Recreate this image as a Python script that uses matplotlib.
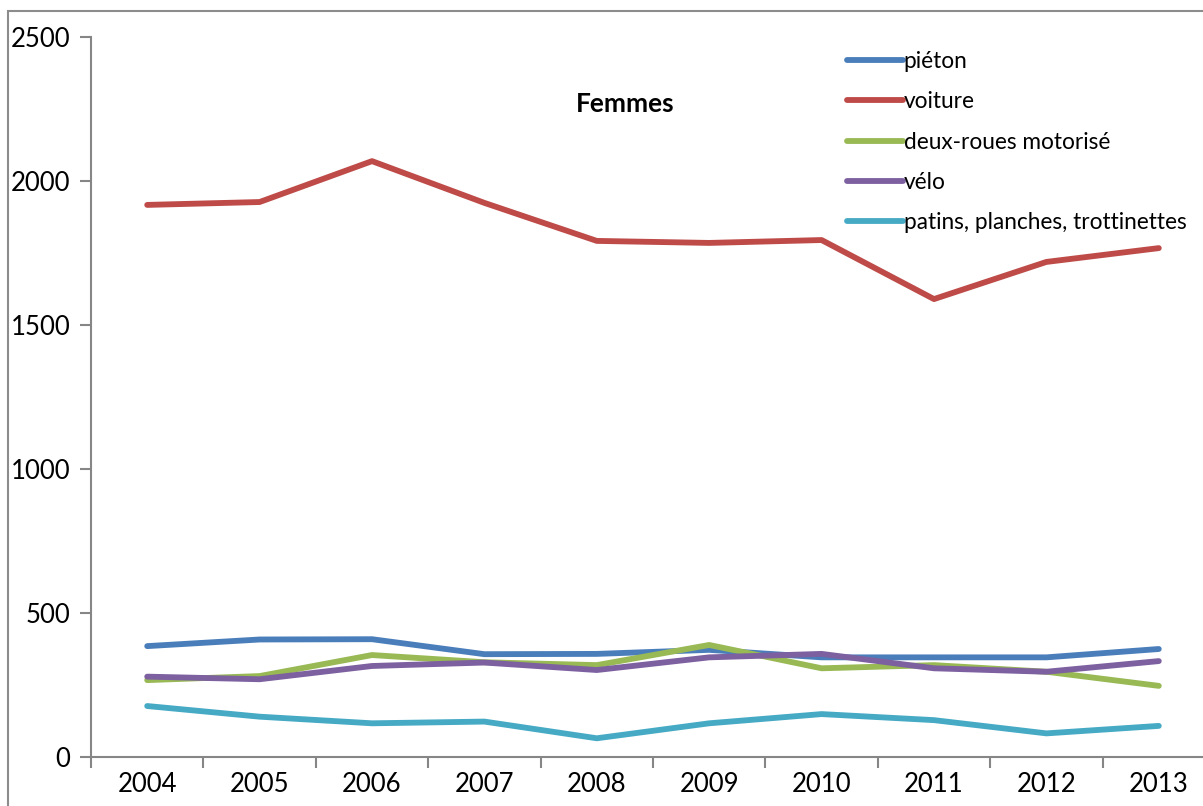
import numpy as np
import matplotlib.pyplot as plt
from matplotlib.patches import Rectangle

# --- données ---
annees = ['2004', '2005', '2006', '2007', '2008', '2009', '2010', '2011', '2012', '2013']
pieton = [385, 408, 409, 357, 358, 372, 346, 346, 346, 375]
voiture = [1917, 1927, 2069, 1924, 1792, 1785, 1795, 1590, 1719, 1767]
deux_roues = [267, 281, 354, 329, 319, 389, 308, 319, 296, 247]
velo = [279, 270, 316, 328, 302, 346, 358, 308, 296, 333]
patins = [177, 140, 117, 123, 65, 117, 149, 128, 82, 108]

series = [
    ('piéton', pieton, '#4A7EBB'),
    ('voiture', voiture, '#BE4B48'),
    ('deux-roues motorisé', deux_roues, '#98B954'),
    ('vélo', velo, '#7D60A0'),
    ('patins, planches, trottinettes', patins, '#46AAC5'),
]

plt.rcParams['font.family'] = ['Lato', 'DejaVu Sans']

W, H = 1203, 806
fig = plt.figure(figsize=(W / 100, H / 100), dpi=100)

# cadre extérieur du graphique (coupé à droite et en bas)
fig.patches.append(Rectangle((8 / W, -0.05), 1.1, 1 - 11 / H + 0.05,
                             transform=fig.transFigure, fill=False,
                             edgecolor='#8C8C8C', lw=1.5))

ax = fig.add_axes([91 / W, (H - 757) / H, 1124 / W, 720 / H])

x = np.arange(len(annees))
for nom, vals, couleur in series:
    ax.plot(x, vals, color=couleur, lw=4.2, label=nom, solid_capstyle='round')

ax.set_xlim(-0.5, len(annees) - 0.5)
ax.set_ylim(0, 2500)
ax.set_yticks([0, 500, 1000, 1500, 2000, 2500])

# graduations entre les catégories, étiquettes au centre
ax.set_xticks(np.arange(-0.5, len(annees), 1.0))
ax.set_xticklabels([])
ax.set_xticks(x, minor=True)
ax.set_xticklabels(annees, minor=True)
ax.tick_params(axis='x', which='major', length=8, width=1.5, color='#868686', direction='out')
ax.tick_params(axis='x', which='minor', length=0, pad=11, labelsize=18.5)
ax.tick_params(axis='y', length=8, width=1.5, color='#868686', pad=7, labelsize=18.5)

for s in ['top', 'right']:
    ax.spines[s].set_visible(False)
for s in ['left', 'bottom']:
    ax.spines[s].set_color('#868686')
    ax.spines[s].set_linewidth(1.5)

fig.text(625 / W, 1 - 104 / H, 'Femmes', ha='center', va='center',
         fontsize=19, fontweight='bold')

leg = fig.legend(loc='upper left', bbox_to_anchor=(838 / W, 1 - 42 / H),
                 frameon=False, fontsize=16.3, handlelength=2.45,
                 handletextpad=0.05, labelspacing=0.85, borderaxespad=0)

fig.savefig('out.png', dpi=100)
